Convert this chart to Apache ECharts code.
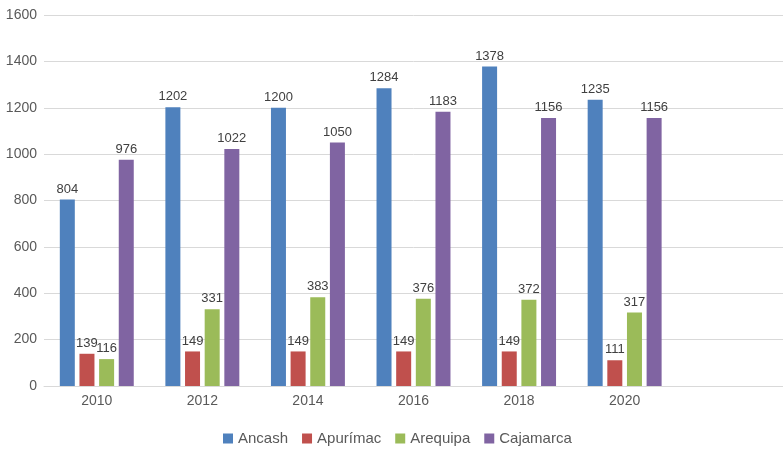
<!DOCTYPE html>
<html>
<head>
<meta charset="utf-8">
<script src="https://cdn.jsdelivr.net/npm/echarts@6/dist/echarts.min.js"></script>
<style>html,body{margin:0;padding:0;background:#fff}#c{width:783px;height:453px}</style>
</head>
<body>
<div id="c"></div>
<script>
const categories = ['2010', '2012', '2014', '2016', '2018', '2020', ''];
const ancash = [804, 1202, 1200, 1284, 1378, 1235];
const apurimac = [139, 149, 149, 149, 149, 111];
const arequipa = [116, 331, 383, 376, 372, 317];
const cajamarca = [976, 1022, 1050, 1183, 1156, 1156];
const seriesNames = ['Ancash', 'Apurímac', 'Arequipa', 'Cajamarca'];
const colors = ['#4F81BD', '#C0504D', '#9BBB59', '#8064A2'];
const FONT = 'Liberation Sans';

const chart = echarts.init(document.getElementById('c'));
const mk = (name, data, color) => ({
  name, type: 'bar', data, barWidth: 15, barGap: '31%',
  itemStyle: { color },
  label: { show: true, position: 'top', distance: 4, color: '#404040', fontSize: 13, fontFamily: FONT }
});
chart.setOption({
  animation: false,
  textStyle: { fontFamily: FONT },
  grid: { left: 44, right: 0, top: 15, bottom: 67 },
  legend: {
    bottom: 2, left: 218, itemWidth: 10, itemHeight: 10, itemGap: 14, icon: 'rect',
    textStyle: { color: '#595959', fontSize: 15, fontFamily: FONT },
    data: seriesNames
  },
  xAxis: {
    type: 'category', data: categories,
    axisLine: { lineStyle: { color: '#d9d9d9' } },
    axisTick: { show: false },
    axisLabel: { color: '#595959', fontSize: 14, margin: 8, fontFamily: FONT }
  },
  yAxis: {
    type: 'value', min: 0, max: 1600, interval: 200,
    axisLine: { show: false }, axisTick: { show: false },
    splitLine: { lineStyle: { color: '#d9d9d9' } },
    axisLabel: { color: '#595959', fontSize: 14, margin: 7, fontFamily: FONT, formatter: v => String(v) }
  },
  series: [
    mk(seriesNames[0], ancash, colors[0]),
    mk(seriesNames[1], apurimac, colors[1]),
    mk(seriesNames[2], arequipa, colors[2]),
    mk(seriesNames[3], cajamarca, colors[3])
  ]
});
</script>
</body>
</html>
